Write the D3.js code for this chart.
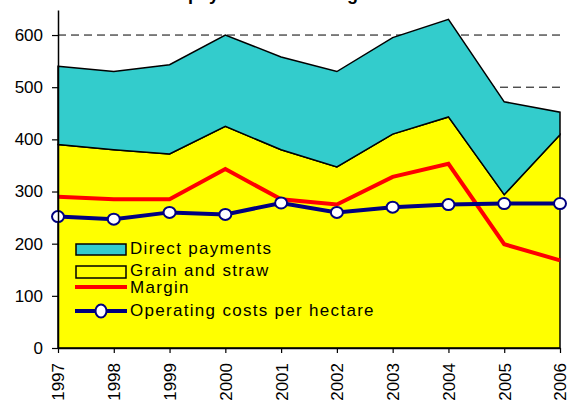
<!DOCTYPE html>
<html>
<head>
<meta charset="utf-8">
<script src="https://cdn.jsdelivr.net/npm/d3@7"></script>
<style>
  body { margin: 0; background: #fff; }
  svg { display: block; font-family: "Liberation Sans", Arial, sans-serif; }
</style>
</head>
<body>
<svg id="chart" width="567" height="405"></svg>
<script>
// values
let years = ["1997", "1998", "1999", "2000", "2001", "2002", "2003", "2004", "2005", "2006"];
let grainStraw = [390, 380, 372, 425, 380, 347, 410, 443, 294, 409];
let directPayments = [150, 150, 171, 175, 178, 183, 185, 187, 178, 43];
let margin = [290, 285, 285, 343, 285, 275, 328, 353, 199, 168];
let operatingCosts = [252, 247, 260, 256, 278, 260, 270, 275, 277, 277];
let yTicks = [0, 100, 200, 300, 400, 500, 600];
let legendLabels = ["Direct payments", "Grain and straw", "Margin", "Operating costs per hectare"];

let svg = d3.select("#chart");

let x = d3.scalePoint().domain(years).range([58, 560]),
    y = d3.scaleLinear().domain([0, 648]).range([348, 10]);

let rows = years.map(function(yr, i) {
    return { year: yr, grain: grainStraw[i], direct: directPayments[i] };
});
let stacked = d3.stack().keys(["grain", "direct"])(rows);

// title, cut off at the top of the picture (only descenders show)
svg.append("text")
    .attr("x", 132)
    .attr("y", -0.5)
    .attr("font-size", "18px")
    .attr("font-weight", "bold")
    .text("Direct payments and margin");

// dashed grid lines
svg.append("g")
    .selectAll("line")
    .data(yTicks.slice(1))
    .enter().append("line")
    .attr("x1", 58)
    .attr("x2", 560)
    .attr("y1", function(d) { return y(d); })
    .attr("y2", function(d) { return y(d); })
    .attr("stroke", "#000")
    .attr("stroke-width", 1)
    .attr("stroke-dasharray", "8,5");

// stacked areas
let area = d3.area()
    .x(function(d) { return x(d.data.year); })
    .y0(function(d) { return y(d[0]); })
    .y1(function(d) { return y(d[1]); });

let areaColors = ["#ffff00", "#33cccc"];

svg.append("g")
    .selectAll("path")
    .data(stacked)
    .enter().append("path")
    .attr("d", area)
    .attr("fill", function(d, i) { return areaColors[i]; })
    .attr("stroke", "#000")
    .attr("stroke-width", 1.5);

// margin line
let line = d3.line()
    .x(function(d, i) { return x(years[i]); })
    .y(function(d) { return y(d); });

svg.append("path")
    .datum(margin)
    .attr("d", line)
    .attr("fill", "none")
    .attr("stroke", "#ff0000")
    .attr("stroke-width", 4);

// operating costs line with markers
svg.append("path")
    .datum(operatingCosts)
    .attr("d", line)
    .attr("fill", "none")
    .attr("stroke", "#000080")
    .attr("stroke-width", 4);

svg.append("g")
    .selectAll("ellipse")
    .data(operatingCosts)
    .enter().append("ellipse")
    .attr("cx", function(d, i) { return x(years[i]); })
    .attr("cy", function(d) { return y(d); })
    .attr("rx", 6)
    .attr("ry", 5.5)
    .attr("fill", "#fff")
    .attr("stroke", "#000080")
    .attr("stroke-width", 2);

// axes
let yAxis = svg.append("g")
    .attr("transform", "translate(58,0)")
    .call(d3.axisLeft(y).tickValues(yTicks).tickSize(6).tickSizeOuter(0).tickPadding(9));

let xAxis = svg.append("g")
    .attr("transform", "translate(0,348)")
    .call(d3.axisBottom(x).tickSize(5).tickSizeOuter(0));

xAxis.selectAll("text")
    .attr("transform", "rotate(-90)")
    .attr("text-anchor", "end")
    .attr("x", -15)
    .attr("y", 0)
    .attr("dy", "0.35em");

[yAxis, xAxis].forEach(function(a) {
    a.selectAll("text").attr("font-size", "17px").attr("fill", "#000")
        .attr("font-family", "'Liberation Sans', Arial, sans-serif");
    a.select(".domain").attr("stroke", "#000").attr("stroke-width", 1.5);
    a.selectAll(".tick line").attr("stroke", "#000").attr("stroke-width", 1.2);
});

// legend
let legendBase = [254, 276, 293, 316];
let legend = svg.append("g");

legend.selectAll("text")
    .data(legendLabels)
    .enter().append("text")
    .attr("x", 130)
    .attr("y", function(d, i) { return legendBase[i]; })
    .attr("font-size", "17px")
    .attr("letter-spacing", "1.3px")
    .text(function(d) { return d; });

legend.append("rect")
    .attr("x", 76).attr("y", 244).attr("width", 50).attr("height", 11)
    .attr("fill", "#33cccc").attr("stroke", "#000").attr("stroke-width", 1.5);
legend.append("rect")
    .attr("x", 76).attr("y", 266).attr("width", 50).attr("height", 12)
    .attr("fill", "#ffff00").attr("stroke", "#000").attr("stroke-width", 1.5);
legend.append("line")
    .attr("x1", 75).attr("x2", 127).attr("y1", 287).attr("y2", 287)
    .attr("stroke", "#ff0000").attr("stroke-width", 4);
legend.append("line")
    .attr("x1", 75).attr("x2", 127).attr("y1", 311).attr("y2", 311)
    .attr("stroke", "#000080").attr("stroke-width", 4);
legend.append("ellipse")
    .attr("cx", 101).attr("cy", 311).attr("rx", 5.5).attr("ry", 6.5)
    .attr("fill", "#fff").attr("stroke", "#000080").attr("stroke-width", 2);
</script>
</body>
</html>
